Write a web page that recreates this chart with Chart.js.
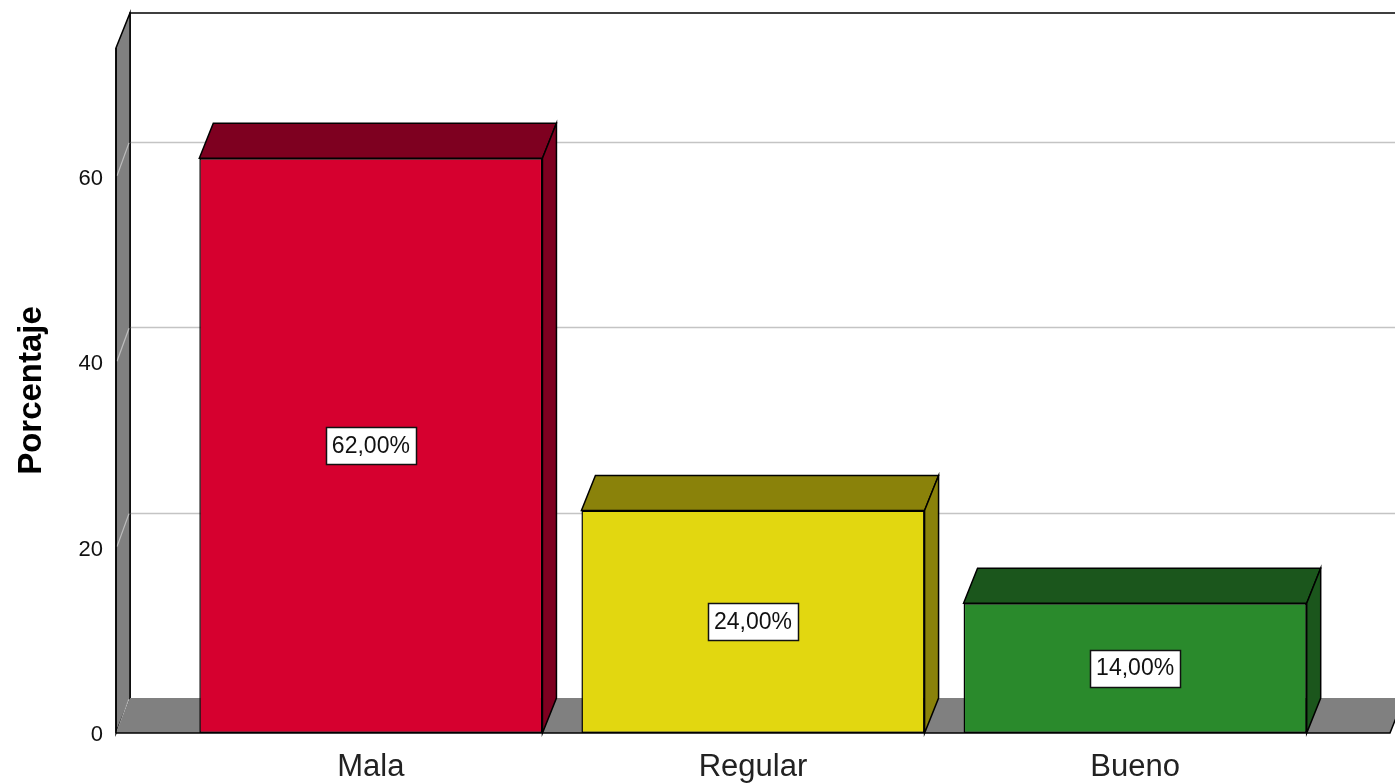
<!DOCTYPE html>
<html>
<head>
<meta charset="utf-8">
<title>Porcentaje por categoría</title>
<script src="https://cdn.jsdelivr.net/npm/chart.js@4/dist/chart.umd.min.js"></script>
<style>
  html, body { margin: 0; padding: 0; background: #ffffff; }
  canvas { display: block; }
</style>
</head>
<body>
<canvas id="chart" width="1395" height="784"></canvas>
<script>
// Data
const categories = ['Mala', 'Regular', 'Bueno'];
const percentages = [62, 24, 14];
const yTickValues = [0, 20, 40, 60];

// Styles
const frontColors = ['#d6002f', '#e2d710', '#2a8a2c'];
const shadeColors = ['#7e0020', '#8a820a', '#1b561c'];
const FONT = '"Liberation Sans", Arial, sans-serif';
const DEPTH_X = 14;
const DEPTH_Y = 35;
const WALL_GRAY = '#808080';

const fmt = v => v.toFixed(2).replace('.', ',') + '%';

// Walls, floor and back-wall grid drawn before the bars
const scenePlugin = {
  id: 'scene3d',
  beforeDatasetsDraw(chart) {
    const { ctx, chartArea: a, scales: { y } } = chart;
    const W = chart.width;
    ctx.save();
    ctx.lineJoin = 'miter';

    // back wall outline
    ctx.strokeStyle = '#000';
    ctx.lineWidth = 1.5;
    ctx.beginPath();
    ctx.moveTo(a.left + DEPTH_X, a.bottom - DEPTH_Y);
    ctx.lineTo(a.left + DEPTH_X, a.top - DEPTH_Y);
    ctx.lineTo(W + 2, a.top - DEPTH_Y);
    ctx.stroke();

    // horizontal grid lines on the back wall
    ctx.strokeStyle = '#c4c4c4';
    ctx.lineWidth = 1.5;
    yTickValues.forEach(v => {
      if (v === 0) return;
      const py = Math.round(y.getPixelForValue(v) - DEPTH_Y) + 0.5;
      ctx.beginPath();
      ctx.moveTo(a.left + DEPTH_X, py);
      ctx.lineTo(W + 2, py);
      ctx.stroke();
    });

    // left wall
    ctx.fillStyle = WALL_GRAY;
    ctx.strokeStyle = '#000';
    ctx.lineWidth = 1.5;
    ctx.beginPath();
    ctx.moveTo(a.left, a.bottom);
    ctx.lineTo(a.left, a.top);
    ctx.lineTo(a.left + DEPTH_X, a.top - DEPTH_Y);
    ctx.lineTo(a.left + DEPTH_X, a.bottom - DEPTH_Y);
    ctx.closePath();
    ctx.fill();
    ctx.stroke();

    // diagonal grid marks across the left wall
    ctx.strokeStyle = '#bdbdbd';
    ctx.lineWidth = 1.2;
    yTickValues.forEach(v => {
      const py = y.getPixelForValue(v);
      ctx.beginPath();
      ctx.moveTo(a.left + 1, py - 1);
      ctx.lineTo(a.left + DEPTH_X - 1, py - DEPTH_Y + 1);
      ctx.stroke();
    });

    // floor
    ctx.fillStyle = WALL_GRAY;
    ctx.strokeStyle = '#000';
    ctx.lineWidth = 1.5;
    ctx.beginPath();
    ctx.moveTo(a.left, a.bottom);
    ctx.lineTo(a.right, a.bottom);
    ctx.lineTo(a.right + DEPTH_X, a.bottom - DEPTH_Y);
    ctx.lineTo(a.left + DEPTH_X, a.bottom - DEPTH_Y);
    ctx.closePath();
    ctx.fill();
    ctx.beginPath();
    ctx.moveTo(a.left, a.bottom);
    ctx.lineTo(a.right, a.bottom);
    ctx.lineTo(a.right + DEPTH_X, a.bottom - DEPTH_Y);
    ctx.stroke();
    ctx.beginPath();
    ctx.moveTo(a.left, a.top);
    ctx.lineTo(a.left, a.bottom);
    ctx.stroke();
    ctx.restore();
  },

  // top and side faces of each bar, then the value labels
  afterDatasetsDraw(chart) {
    const { ctx } = chart;
    const meta = chart.getDatasetMeta(0);
    ctx.save();
    ctx.lineJoin = 'miter';
    ctx.lineWidth = 1.5;
    ctx.strokeStyle = '#000';
    meta.data.forEach((bar, i) => {
      const { x, y, base, width } = bar.getProps(['x', 'y', 'base', 'width'], true);
      const l = x - width / 2, r = x + width / 2;
      ctx.fillStyle = shadeColors[i];
      // top face
      ctx.beginPath();
      ctx.moveTo(l, y);
      ctx.lineTo(l + DEPTH_X, y - DEPTH_Y);
      ctx.lineTo(r + DEPTH_X, y - DEPTH_Y);
      ctx.lineTo(r, y);
      ctx.closePath();
      ctx.fill();
      ctx.stroke();
      // right side face
      ctx.beginPath();
      ctx.moveTo(r, y);
      ctx.lineTo(r + DEPTH_X, y - DEPTH_Y);
      ctx.lineTo(r + DEPTH_X, base - DEPTH_Y);
      ctx.lineTo(r, base);
      ctx.closePath();
      ctx.fill();
      ctx.stroke();
    });

    // value labels in the middle of each front face
    ctx.font = '23px ' + FONT;
    ctx.textAlign = 'center';
    ctx.textBaseline = 'middle';
    meta.data.forEach((bar, i) => {
      const { x, y, base } = bar.getProps(['x', 'y', 'base'], true);
      const cy = (y + base) / 2;
      const txt = fmt(percentages[i]);
      const tw = ctx.measureText(txt).width;
      const bw = Math.round(tw + 12), bh = 37;
      const bx = Math.round(x - bw / 2) + 0.5, by = Math.round(cy - bh / 2) + 0.5;
      ctx.fillStyle = '#ffffff';
      ctx.fillRect(bx, by, bw, bh);
      ctx.strokeStyle = '#111';
      ctx.lineWidth = 1.5;
      ctx.strokeRect(bx, by, bw, bh);
      ctx.fillStyle = '#111';
      ctx.fillText(txt, x, cy + 1);
    });
    ctx.restore();
  }
};

new Chart(document.getElementById('chart'), {
  type: 'bar',
  data: {
    datasets: [{
      data: categories.map((c, i) => ({ x: i, y: percentages[i] })),
      backgroundColor: frontColors,
      borderColor: '#000',
      borderWidth: 1.5,
      borderSkipped: false,
      categoryPercentage: 1,
      barPercentage: 0.898
    }]
  },
  options: {
    responsive: false,
    devicePixelRatio: 1,
    animation: false,
    layout: { padding: { top: 48, right: 5, left: 0, bottom: 0 } },
    plugins: {
      legend: { display: false },
      tooltip: { enabled: false }
    },
    scales: {
      x: {
        type: 'linear',
        offset: false,
        min: -0.667,
        max: 2.667,
        grid: { display: false, drawTicks: false, offset: false },
        border: { display: false },
        afterBuildTicks: s => { s.ticks = categories.map((c, i) => ({ value: i })); },
        afterFit: s => { s.height = 51; },
        ticks: {
          autoSkip: false,
          maxRotation: 0,
          padding: 16,
          color: '#222',
          font: { family: FONT, size: 31 },
          callback: v => categories[v] ?? ''
        }
      },
      y: {
        min: 0,
        max: 73.9,
        grid: { display: false, drawTicks: false },
        border: { display: false },
        afterBuildTicks: s => { s.ticks = yTickValues.map(v => ({ value: v })); },
        afterFit: s => { s.width = 116; },
        ticks: {
          padding: 13,
          labelOffset: 2,
          color: '#111',
          font: { family: FONT, size: 22 }
        },
        title: {
          display: true,
          text: 'Porcentaje',
          color: '#000',
          padding: { top: 12, bottom: 0 },
          font: { family: FONT, size: 33, weight: 'bold' }
        }
      }
    }
  },
  plugins: [scenePlugin]
});
</script>
</body>
</html>
